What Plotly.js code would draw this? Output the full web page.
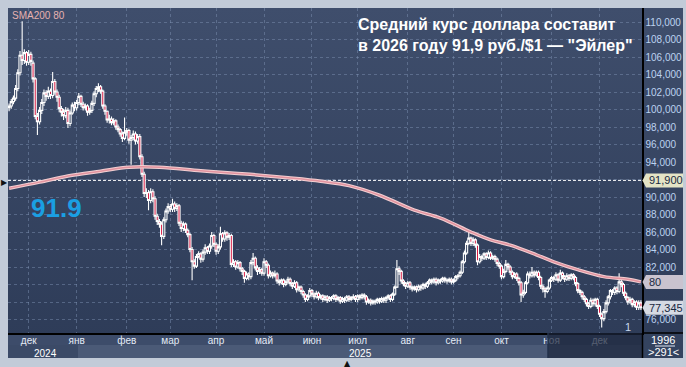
<!DOCTYPE html>
<html><head><meta charset="utf-8">
<script src="https://cdn.plot.ly/plotly-3.0.1.min.js"></script>
<style>
html,body{margin:0;padding:0;background:#c2cbd8;}
#wrap{position:relative;width:686px;height:367px;overflow:hidden;background:#c2cbd8;}
#bg{position:absolute;left:8px;top:8px;width:675px;height:350px;background:linear-gradient(#3f4e6c,#2d3b57);}
#chart{position:absolute;left:0;top:0;width:686px;height:367px;}
</style></head>
<body><div id="wrap"><div id="bg"></div><div id="chart"></div></div>
<script>
// Daily USD/RUB candles, 291 bars (weekdays), Nov 2024 – Dec 2025
const openP = [
100.2,100.4,100.9,101.3,102.4,104.2,106.2,105.6,106.5,105.4,
106.3,105.3,103.5,99.2,98.6,99.9,100.8,101.9,101.5,102.1,
101.6,103.2,102.0,101.4,100.1,99.7,99.3,99.9,98.4,99.6,
100.5,100.2,100.8,101.5,100.6,100.2,100.4,99.7,99.9,100.7,
101.8,102.4,102.6,102.1,100.4,99.8,98.8,98.9,98.5,98.7,
98.0,97.7,97.2,96.7,97.4,97.6,96.5,96.8,97.2,96.4,
96.9,94.6,92.6,90.4,90.5,89.6,90.6,89.8,87.8,87.2,
86.9,85.5,87.4,88.4,88.9,88.6,89.2,88.7,89.0,87.0,
86.4,86.9,86.2,85.7,84.0,82.6,82.1,83.2,83.5,82.9,
83.7,84.2,83.8,84.4,85.6,84.6,83.8,84.3,85.8,85.2,
85.9,85.4,85.6,82.3,82.6,82.0,82.5,81.8,81.5,80.7,
81.2,80.9,82.5,83.0,81.9,81.5,81.7,81.3,82.6,82.2,
81.0,81.3,81.0,81.2,80.4,80.2,80.5,80.0,80.3,80.6,
80.1,79.8,80.2,79.4,79.7,79.2,78.8,78.3,78.7,79.3,
78.9,78.6,79.0,78.5,78.7,78.3,78.6,78.2,78.5,78.4,
78.7,78.3,78.5,78.1,78.4,78.2,78.6,78.3,78.5,78.6,
78.3,78.7,78.5,78.8,78.6,78.0,78.2,77.9,78.1,78.0,
78.3,78.1,78.4,78.2,78.5,78.7,78.3,78.9,79.7,81.8,
81.5,80.4,80.1,79.8,80.2,79.7,79.5,79.7,79.4,79.8,
79.6,80.0,79.8,80.2,80.5,80.3,80.6,80.2,80.5,80.4,
80.7,80.5,80.4,80.6,80.3,80.5,80.9,81.0,81.4,82.6,
83.6,84.7,85.3,84.7,85.1,84.5,82.6,83.2,83.0,83.5,
83.1,83.6,83.0,83.2,82.9,82.4,82.1,80.9,81.5,82.3,
82.0,81.4,80.9,81.2,80.7,80.2,78.8,79.1,80.2,81.2,
81.0,81.4,81.1,81.4,80.8,79.8,79.5,79.2,79.6,80.5,
80.8,80.6,81.1,80.5,81.3,80.9,80.6,81.0,80.7,81.1,
80.8,80.1,79.3,79.1,78.6,78.3,77.8,77.5,78.2,77.8,
78.3,77.5,76.6,76.1,76.9,77.9,78.6,79.3,79.1,79.6,
79.2,80.3,80.0,79.0,78.5,78.0,78.3,77.7,78.0,77.4,77.9];
const highP = [
100.7,101.2,101.6,102.8,104.6,106.7,110.1,106.9,106.7,106.8,
106.6,105.6,103.7,99.6,100.3,101.2,102.3,102.2,102.6,102.4,
104.3,103.5,102.3,101.7,100.4,100.1,100.3,100.2,99.9,100.8,
100.9,101.1,101.9,101.7,100.9,100.7,100.6,100.2,101.0,102.1,
102.7,103.0,102.8,102.3,100.6,99.9,99.4,99.2,99.0,98.9,
98.3,97.9,97.5,99.1,97.9,97.8,97.1,97.6,97.5,97.2,
97.2,94.9,92.9,91.0,90.8,91.0,90.9,90.1,88.1,87.5,
87.2,87.7,88.7,89.3,89.2,89.8,89.5,89.3,89.2,87.3,
87.2,87.1,86.4,85.9,84.3,82.9,83.5,83.8,83.7,84.0,
84.6,84.4,84.7,86.0,85.8,84.8,84.6,86.6,86.0,86.2,
86.1,85.9,85.8,82.9,82.8,82.8,82.7,82.0,81.7,81.5,
81.4,82.8,83.6,83.2,82.2,82.0,81.9,83.0,82.8,82.4,
81.6,81.5,81.6,81.4,80.6,80.7,80.7,80.5,80.9,80.8,
80.3,80.5,80.4,79.9,79.9,79.4,79.0,78.9,79.6,79.5,
79.1,79.3,79.2,78.9,78.9,78.8,78.8,78.7,78.7,78.9,
78.9,78.7,78.7,78.6,78.6,78.8,78.8,78.7,78.9,78.8,
78.9,78.9,79.0,79.0,78.8,78.4,78.4,78.3,78.3,78.5,
78.5,78.6,78.6,78.7,78.9,78.9,79.1,79.9,82.8,82.1,
81.7,80.6,80.3,80.4,80.4,79.9,79.9,79.9,80.0,80.0,
80.2,80.2,80.4,80.7,80.7,80.8,80.8,80.7,80.7,80.9,
80.9,80.7,80.8,80.8,80.7,81.1,81.2,81.6,82.8,83.9,
85.0,86.0,85.5,85.4,85.3,84.7,83.5,83.4,83.7,83.7,
83.9,83.8,83.4,83.4,83.1,82.6,82.3,81.8,82.8,82.5,
82.2,81.6,81.4,81.4,80.9,80.4,79.4,80.4,81.5,81.5,
82.0,81.6,81.6,81.6,81.0,80.0,79.7,79.8,80.7,81.0,
81.0,81.4,81.3,81.7,81.5,81.1,81.3,81.2,81.3,81.3,
81.0,80.3,79.5,79.3,78.8,78.5,78.0,78.5,78.4,78.5,
78.5,77.7,76.8,77.2,78.2,78.8,79.5,79.5,79.8,79.8,
81.3,80.6,80.2,79.2,78.7,78.6,78.5,78.2,78.2,78.2,78.2];
const lowP = [
99.8,100.1,100.6,101.0,102.1,103.9,105.1,105.2,105.0,105.1,
105.0,103.1,98.9,97.1,98.3,99.5,100.4,101.0,101.2,101.2,
101.3,101.7,100.9,99.7,99.2,98.8,99.0,97.9,98.1,99.4,
99.8,99.9,100.5,100.3,99.9,99.9,99.3,99.4,99.6,100.4,
101.4,102.0,101.8,100.1,99.4,98.5,98.4,98.2,98.2,97.7,
97.4,96.9,96.3,96.5,97.0,96.1,93.7,96.5,96.0,96.1,
94.3,92.3,90.0,89.9,88.5,89.3,89.4,87.4,86.8,86.5,
84.5,85.2,87.1,88.1,88.3,88.3,88.3,88.4,86.7,86.0,
86.1,85.9,85.4,83.7,80.5,81.8,81.9,83.0,82.5,82.6,
83.4,83.5,83.5,84.1,84.3,83.4,83.5,84.0,84.9,84.9,
85.0,85.1,82.0,82.0,81.7,81.8,81.5,81.1,80.2,80.5,
80.5,80.6,82.2,81.6,81.1,81.2,81.0,81.0,81.9,80.7,
80.8,80.7,80.8,80.1,79.9,80.0,79.7,79.8,80.1,79.8,
79.5,79.6,79.1,79.2,78.9,78.5,78.0,78.1,78.5,78.6,
78.3,78.4,78.2,78.3,78.0,78.1,77.9,78.0,78.1,78.2,
78.0,78.1,77.8,77.9,77.9,78.0,78.0,78.1,78.3,78.0,
78.0,78.2,78.3,78.3,77.7,77.8,77.6,77.7,77.7,77.8,
77.8,77.9,77.9,77.9,78.3,78.0,78.1,78.7,79.6,81.1,
80.1,79.8,79.5,79.6,79.4,79.2,79.3,79.1,79.2,79.3,
79.4,79.5,79.6,80.0,80.0,80.1,79.9,80.0,80.1,80.2,
80.2,80.1,80.2,80.0,80.1,80.3,80.6,80.8,81.2,82.4,
83.4,84.5,84.4,84.4,84.2,82.2,82.4,82.7,82.8,82.8,
82.9,82.8,82.8,82.6,82.1,81.8,80.6,80.7,81.3,81.7,
81.1,80.6,80.7,80.4,79.9,78.0,78.5,78.9,80.0,80.7,
80.8,80.8,80.9,80.5,79.5,79.1,78.5,79.0,79.4,80.3,
80.3,80.4,80.2,80.3,80.6,80.3,80.4,80.4,80.5,80.5,
79.8,79.0,78.8,78.3,78.0,77.5,77.2,77.3,77.5,77.5,
77.2,76.3,75.1,75.8,76.7,77.6,78.3,78.8,78.8,78.9,
79.0,79.7,78.7,78.2,77.7,77.8,77.4,77.4,77.1,77.1,77.1];
const closeP = [
100.4,100.9,101.3,102.4,104.2,106.2,105.6,106.5,105.4,106.3,
105.5,103.5,99.2,98.6,99.9,100.8,101.9,101.5,102.1,101.6,
103.2,102.0,101.4,100.1,99.7,99.3,99.9,98.4,99.6,100.5,
100.2,100.8,101.5,100.6,100.2,100.4,99.7,99.9,100.7,101.8,
102.4,102.6,102.1,100.4,99.8,98.8,98.9,98.5,98.7,98.0,
97.7,97.2,96.7,97.4,97.6,96.5,96.8,97.2,96.4,96.9,
94.6,92.6,90.4,90.5,89.6,90.6,89.8,87.8,87.2,86.9,
85.5,87.4,88.4,88.9,88.6,89.2,88.7,89.0,87.0,86.4,
86.9,86.2,85.7,84.0,82.6,82.1,83.2,83.5,82.9,83.7,
84.2,83.8,84.4,85.6,84.6,83.8,84.3,85.8,85.2,85.9,
85.4,85.6,82.3,82.6,82.0,82.5,81.8,81.5,80.7,81.2,
80.9,82.5,83.0,81.9,81.5,81.7,81.3,82.6,82.2,81.0,
81.3,81.0,81.2,80.4,80.2,80.5,80.0,80.3,80.6,80.1,
79.8,80.2,79.4,79.7,79.2,78.8,78.3,78.7,79.3,78.9,
78.6,79.0,78.5,78.7,78.3,78.6,78.2,78.5,78.4,78.7,
78.3,78.5,78.1,78.4,78.2,78.6,78.3,78.5,78.6,78.3,
78.7,78.5,78.8,78.6,78.0,78.2,77.9,78.1,78.0,78.3,
78.1,78.4,78.2,78.5,78.7,78.3,78.9,79.7,81.8,81.5,
80.4,80.1,79.8,80.2,79.7,79.5,79.7,79.4,79.8,79.6,
80.0,79.8,80.2,80.5,80.3,80.6,80.2,80.5,80.4,80.7,
80.5,80.4,80.6,80.3,80.5,80.9,81.0,81.4,82.6,83.6,
84.7,85.3,84.7,85.1,84.5,82.6,83.2,83.0,83.5,83.1,
83.6,83.0,83.2,82.9,82.4,82.1,80.9,81.5,82.3,82.0,
81.4,80.9,81.2,80.7,80.2,78.8,79.1,80.2,81.2,81.0,
81.4,81.1,81.4,80.8,79.8,79.5,79.2,79.6,80.5,80.8,
80.6,81.1,80.5,81.3,80.9,80.6,81.0,80.7,81.1,80.8,
80.1,79.3,79.1,78.6,78.3,77.8,77.5,78.2,77.8,78.3,
77.5,76.6,76.1,76.9,77.9,78.6,79.3,79.1,79.6,79.2,
80.3,80.0,79.0,78.5,78.0,78.3,77.7,78.0,77.4,77.9,77.345];

// SMA200 at selected bars
const smaBar = [0,14,27,42,55,69,88,105,115,128,143,156,170,186,198,212,221,230,242,250,261,273,284,290];
const smaVal = [91.0,91.7,92.4,92.95,93.4,93.4,93.0,92.7,92.5,92.2,91.8,91.3,90.2,88.5,87.6,86.0,85.1,84.5,83.4,82.6,81.7,80.9,80.6,80.3];

// month ticks (bar index of first trading day)
const monthBar = [9,31,54,74,95,117,139,160,183,204,226,249,271];
const monthText = ['дек','янв','фев','мар','апр','май','июн','июл','авг','сен','окт','ноя','дек'];
const yearBar = [16.5,161.5];
const yearText = ['2024','2025'];

// price axis ticks; labels hidden where a value box sits on top
const priceTicks = [76,78,80,82,84,86,88,90,92,94,96,98,100,102,104,106,108,110];
const priceTickText = ['76,000','','','82,000','84,000','86,000','88,000','90,000','','94,000','96,000','98,000','100,000','102,000','104,000','106,000','108,000','110,000'];

const forecast = 91.9;
const smaLast = 80;
const smaLastPos = 80.3;
const lastClose = 77.345;

const bars = closeP.map((_, i) => i);
const FONT = 'Liberation Sans, Arial, sans-serif';

const traces = [
  {type:'candlestick', x:bars, open:openP, high:highP, low:lowP, close:closeP,
   increasing:{line:{color:'#ffffff',width:1.1}, fillcolor:'#33425f'},
   decreasing:{line:{color:'#ffffff',width:1.1}, fillcolor:'#d8143e'},
   whiskerwidth:0, hoverinfo:'skip', showlegend:false},
  {type:'scatter', mode:'lines', x:smaBar, y:smaVal, line:{color:'#f3cfd2', width:3.5, shape:'spline'}, hoverinfo:'skip', showlegend:false},
  {type:'scatter', mode:'lines', x:smaBar, y:smaVal, line:{color:'#e2939f', width:1.5, shape:'spline'}, hoverinfo:'skip', showlegend:false}
];

// paper helpers (plot area 8..642 x 8..333)
const px = v => (v - 8) / 634;
const py = v => (333 - v) / 325;

function valueBox(v, color) {
  return [
    {type:'rect', xref:'paper', yref:'y', x0:px(646), x1:px(683), y0:v-0.8, y1:v+0.8, fillcolor:color, line:{width:0}, layer:'above'},
    {type:'path', xref:'paper', yref:'y', path:`M ${px(646)} ${v+0.8} L ${px(642.5)} ${v} L ${px(646)} ${v-0.8} Z`, fillcolor:color, line:{width:0}, layer:'above'}
  ];
}

const shapes = [
  {type:'line', xref:'paper', yref:'y', x0:0, x1:1, y0:forecast, y1:forecast, line:{color:'#ffffff', width:1, dash:'3px,2px'}, layer:'below'},
  // bottom axis rows
  {type:'rect', xref:'paper', yref:'paper', x0:0, x1:1, y0:py(333), y1:py(345), fillcolor:'#3d4c6a', line:{width:0}, layer:'below'},
  {type:'rect', xref:'paper', yref:'paper', x0:0, x1:px(78), y0:py(345), y1:py(358), fillcolor:'#3b4a67', line:{width:0}, layer:'below'},
  {type:'rect', xref:'paper', yref:'paper', x0:px(78), x1:1, y0:py(345), y1:py(358), fillcolor:'#4b5a77', line:{width:0}, layer:'below'},
  {type:'rect', xref:'paper', yref:'paper', x0:px(548), x1:1, y0:py(333), y1:py(358), fillcolor:'rgba(28,38,60,0.72)', line:{width:0}, layer:'above'},
  {type:'line', xref:'paper', yref:'paper', x0:px(548), x1:px(548), y0:py(333), y1:py(358), line:{color:'#22304a', width:1.5}, layer:'above'},
  // right bottom cell
  {type:'rect', xref:'paper', yref:'paper', x0:px(643), x1:px(683), y0:py(333), y1:py(358), fillcolor:'#34435f', line:{width:0}, layer:'below'},
  {type:'line', xref:'paper', yref:'paper', x0:px(655), x1:px(675), y0:py(346), y1:py(346), line:{color:'#dfe6f2', width:1}, layer:'above'},
  {type:'line', xref:'paper', yref:'paper', x0:px(642.5), x1:px(642.5), y0:py(333), y1:py(358), line:{color:'#000000', width:1.5}, layer:'above'},
  {type:'line', xref:'paper', yref:'paper', x0:px(642.5), x1:px(683), y0:py(333), y1:py(333), line:{color:'#000000', width:1.5}, layer:'above'},
  ...valueBox(forecast, '#e4e4c6'),
  ...valueBox(smaLastPos, '#c9c3cf'),
  ...valueBox(lastClose, '#d6dae3')
];

const ann = [
  {xref:'paper', yref:'paper', x:px(356), y:py(14), xanchor:'left', yanchor:'top', align:'left', showarrow:false,
   text:'Средний курс доллара составит<br>в 2026 году 91,9 руб./$1 — "Эйлер"',
   font:{family:FONT, size:16, color:'#ffffff', weight:'bold'}},
  {xref:'paper', yref:'y', x:px(56), y:88.75, xanchor:'center', yanchor:'middle', showarrow:false,
   text:'91.9', font:{family:FONT, size:26, color:'#1a9fe3', weight:'bold'}},
  {xref:'paper', yref:'paper', x:px(10), y:py(16), xanchor:'left', yanchor:'middle', showarrow:false,
   text:'SMA200 ' + smaLast, font:{family:FONT, size:10, color:'#e6b2b0'}},
  {xref:'paper', yref:'y', x:px(647), y:forecast, xanchor:'left', yanchor:'middle', showarrow:false,
   text:'91,900', font:{family:FONT, size:11, color:'#1a2942'}},
  {xref:'paper', yref:'y', x:px(647), y:smaLastPos, xanchor:'left', yanchor:'middle', showarrow:false,
   text:String(smaLast), font:{family:FONT, size:11, color:'#1a2942'}},
  {xref:'paper', yref:'y', x:px(647), y:lastClose, xanchor:'left', yanchor:'middle', showarrow:false,
   text:'77,345', font:{family:FONT, size:11, color:'#1a2942'}},
  {xref:'paper', yref:'paper', x:px(663), y:py(340), xanchor:'center', yanchor:'middle', showarrow:false,
   text:'1996', font:{family:FONT, size:11, color:'#ffffff'}},
  {xref:'paper', yref:'paper', x:px(663), y:py(352), xanchor:'center', yanchor:'middle', showarrow:false,
   text:'&gt;291&lt;', font:{family:FONT, size:11, color:'#ffffff'}},
  {xref:'paper', yref:'paper', x:px(628), y:py(327), xanchor:'center', yanchor:'middle', showarrow:false,
   text:'1', font:{family:FONT, size:11, color:'#c9d8ee'}},
  {xref:'paper', yref:'paper', x:px(4), y:py(182.5), xanchor:'center', yanchor:'middle', showarrow:false,
   text:'▶', font:{family:'DejaVu Sans', size:8, color:'#111111'}},
  {xref:'paper', yref:'paper', x:px(347), y:py(363.5), xanchor:'center', yanchor:'middle', showarrow:false,
   text:'▲', font:{family:'DejaVu Sans', size:8, color:'#111111'}}
];
yearBar.forEach((b, k) => ann.push({xref:'x', yref:'paper', x:b, y:py(353), xanchor:'center', yanchor:'middle', showarrow:false,
  text:yearText[k], font:{family:FONT, size:10, color:'#ffffff'}}));

const layout = {
  width:686, height:367,
  margin:{l:8, r:44, t:8, b:34, pad:0},
  paper_bgcolor:'rgba(0,0,0,0)', plot_bgcolor:'rgba(0,0,0,0)',
  showlegend:false,
  boxgap:0.05, boxgroupgap:0,
  font:{family:FONT},
  xaxis:{type:'linear', range:[-0.5, 290.5], rangeslider:{visible:false},
    tickmode:'array', tickvals:monthBar, ticktext:monthText, ticks:'', ticklabelstandoff:-3,
    tickfont:{family:FONT, size:10, color:'#e4ebf6'},
    showgrid:true, gridcolor:'rgba(130,150,185,0.45)', griddash:'3px,3px', gridwidth:1,
    showline:true, linecolor:'#000000', linewidth:1.5, zeroline:false, fixedrange:true},
  yaxis:{side:'right', range:[74.46, 111.6], tickmode:'array', tickvals:priceTicks, ticktext:priceTickText,
    ticks:'', tickfont:{family:FONT, size:10, color:'#bcd2f0'},
    showgrid:true, gridcolor:'rgba(130,150,185,0.45)', griddash:'3px,3px', gridwidth:1,
    showline:true, linecolor:'#000000', linewidth:1.5, zeroline:false, fixedrange:true},
  shapes:shapes, annotations:ann
};
Plotly.newPlot('chart', traces, layout, {staticPlot:true, displayModeBar:false});
</script></body></html>
